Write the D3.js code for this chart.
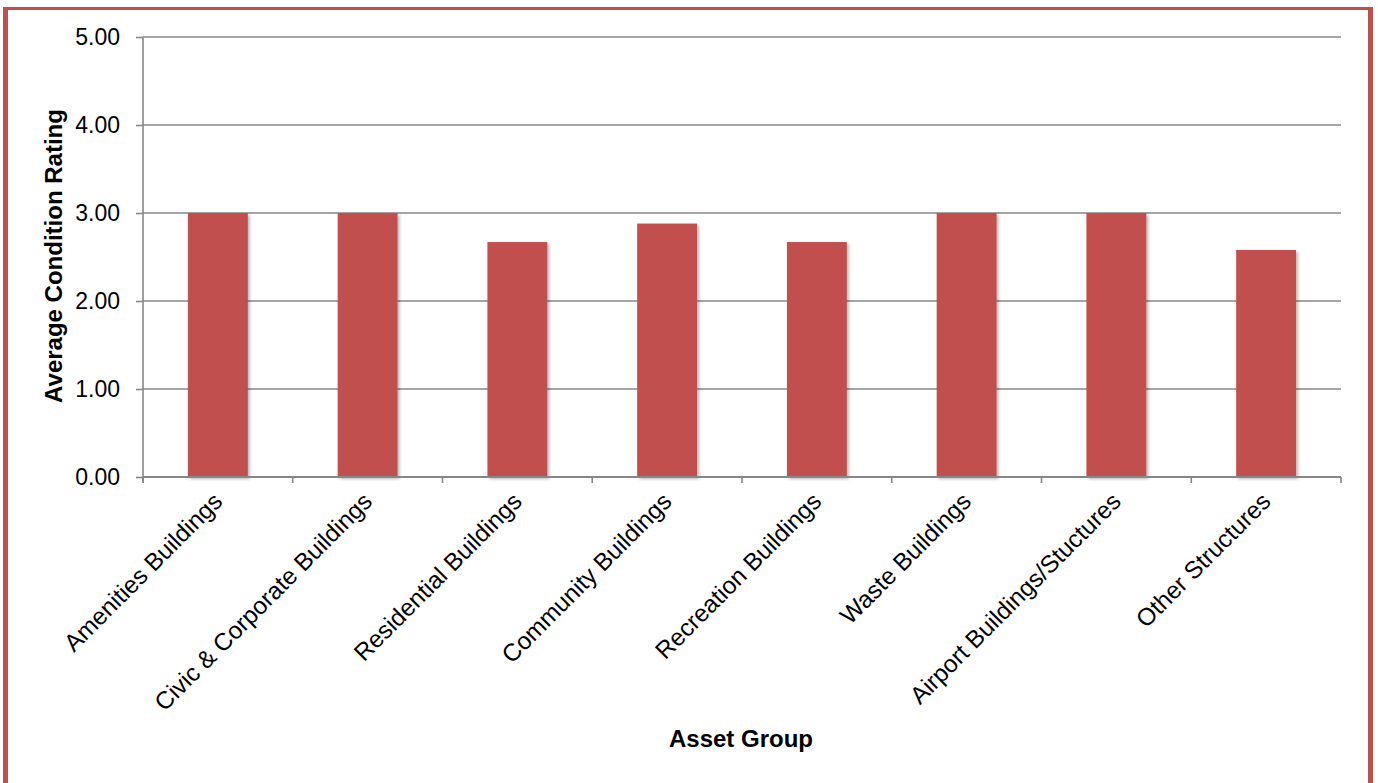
<!DOCTYPE html>
<html>
<head>
<meta charset="utf-8">
<script src="https://cdn.jsdelivr.net/npm/d3@7"></script>
<style>
  html, body { margin: 0; padding: 0; background: #ffffff; }
  svg { display: block; }
  text { font-family: "Liberation Sans", Arial, sans-serif; fill: #000; }
</style>
</head>
<body>
<svg id="chart" width="1378" height="783"></svg>
<script>
const categories = [
  "Amenities Buildings",
  "Civic & Corporate Buildings",
  "Residential Buildings",
  "Community Buildings",
  "Recreation Buildings",
  "Waste Buildings",
  "Airport Buildings/Stuctures",
  "Other Structures"
];
const values = [3.00, 3.00, 2.67, 2.88, 2.67, 3.00, 3.00, 2.58];
const yTicks = [0, 1, 2, 3, 4, 5];
const yTitle = "Average Condition Rating";
const xTitle = "Asset Group";

const svg = d3.select("#chart");
const W = 1378, H = 783;
const m = { left: 143, right: 1341, top: 37, bottom: 477 };
const barColor = "#C0504D";
const axisColor = "#878787";

// border
svg.append("rect").attr("x", 0).attr("y", 0).attr("width", W).attr("height", H).attr("fill", "#fff");
svg.append("rect").attr("x", 3).attr("y", 7).attr("width", 1370).attr("height", 3).attr("fill", barColor);
svg.append("rect").attr("x", 3).attr("y", 7).attr("width", 5).attr("height", H).attr("fill", barColor);
svg.append("rect").attr("x", 1368).attr("y", 7).attr("width", 5).attr("height", H).attr("fill", barColor);

const defs = svg.append("defs");
const f = defs.append("filter").attr("id", "shadow").attr("x", "-20%").attr("y", "-5%").attr("width", "150%").attr("height", "115%");
f.append("feDropShadow").attr("dx", 2).attr("dy", 2).attr("stdDeviation", 1.6)
  .attr("flood-color", "#000").attr("flood-opacity", 0.28);

const x = d3.scaleBand().domain(categories).range([m.left, m.right])
  .paddingInner(0.6).paddingOuter(0.3);
const xStep = d3.scaleBand().domain(categories).range([m.left, m.right]).padding(0);
const y = d3.scaleLinear().domain([0, 5]).range([m.bottom, m.top]);

// gridlines
svg.append("g").selectAll("line").data(yTicks.filter(d => d > 0)).join("line")
  .attr("x1", m.left).attr("x2", m.right)
  .attr("y1", d => y(d)).attr("y2", d => y(d))
  .attr("stroke", axisColor).attr("stroke-width", 1.6);

// y axis
const yAxis = svg.append("g").attr("transform", `translate(${m.left},0)`)
  .call(d3.axisLeft(y).tickValues(yTicks).tickFormat(d3.format(".2f")).tickSize(7).tickPadding(16));
yAxis.select(".domain").attr("stroke", axisColor).attr("stroke-width", 1.6)
  .attr("d", `M0,${m.top}V${m.bottom + 6}`);
yAxis.selectAll(".tick line").attr("stroke", axisColor).attr("stroke-width", 1.6);
yAxis.selectAll(".tick text").attr("font-size", 23).attr("fill", "#000")
  .style("font-family", '"Liberation Sans", Arial, sans-serif');

// bars
svg.append("g").selectAll("rect").data(values).join("rect")
  .attr("x", (d, i) => x(categories[i]))
  .attr("width", x.bandwidth())
  .attr("y", d => y(d))
  .attr("height", d => y(0) - y(d))
  .attr("fill", barColor)
  .attr("filter", "url(#shadow)");

// x axis line + ticks at boundaries
const bounds = categories.map(c => xStep(c)).concat([m.right]);
svg.append("line").attr("x1", m.left).attr("x2", m.right).attr("y1", m.bottom).attr("y2", m.bottom)
  .attr("stroke", axisColor).attr("stroke-width", 2);
svg.append("g").selectAll("line").data(bounds).join("line")
  .attr("x1", d => d).attr("x2", d => d).attr("y1", m.bottom).attr("y2", m.bottom + 6)
  .attr("stroke", axisColor).attr("stroke-width", 1.6);

// category labels
svg.append("g").selectAll("text").data(categories).join("text")
  .attr("transform", d => `translate(${xStep(d) + xStep.bandwidth() / 2 + 6},${m.bottom + 26}) rotate(-45)`)
  .attr("text-anchor", "end")
  .attr("font-size", 24.3)
  .text(d => d);

// titles
svg.append("text")
  .attr("transform", `translate(62,${(m.top + m.bottom) / 2 - 1}) rotate(-90)`)
  .attr("text-anchor", "middle").attr("font-size", 24).attr("font-weight", "bold")
  .text(yTitle);
svg.append("text")
  .attr("x", (m.left + m.right) / 2 - 1).attr("y", 747)
  .attr("text-anchor", "middle").attr("font-size", 24).attr("font-weight", "bold")
  .text(xTitle);
</script>
</body>
</html>
